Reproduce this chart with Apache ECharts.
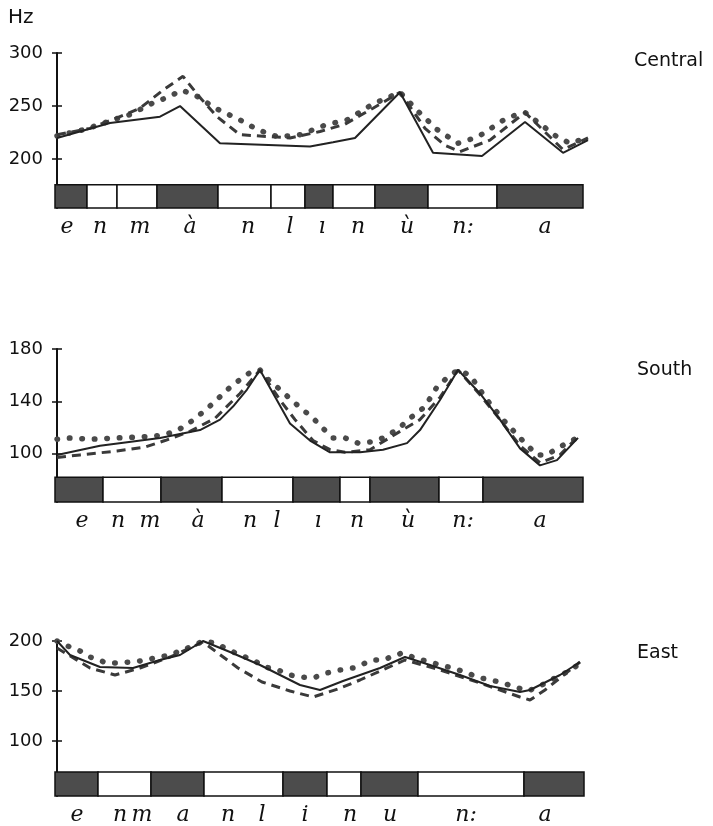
<!DOCTYPE html>
<html>
<head>
<meta charset="utf-8">
<script src="https://cdn.jsdelivr.net/npm/echarts@6/dist/echarts.min.js"></script>
<style>
  html, body { margin: 0; padding: 0; background: #fff; }
  #main { width: 713px; height: 826px; }
</style>
</head>
<body>
<div id="main"></div>
<script>
// time (ms from start of utterance) and F0 (Hz), three speakers per dialect
var centralSolidT = [0, 53, 103, 123, 163, 253, 276, 298, 343, 376, 425, 468, 506, 531];
var centralSolidHz = [220, 234, 240, 250, 215, 212, 216, 220, 263, 206, 203, 235, 206, 218];
var centralDashT = [0, 33, 60, 83, 106, 126, 143, 160, 183, 233, 263, 288, 316, 343, 368, 388, 403, 433, 468, 506, 531];
var centralDashHz = [223, 229, 239, 248, 265, 278, 258, 240, 223, 220, 226, 233, 248, 263, 229, 213, 207, 218, 244, 209, 220];
var centralDotT = [0, 28, 56, 73, 96, 110, 125, 143, 156, 183, 200, 221, 243, 268, 290, 316, 343, 360, 380, 401, 421, 450, 468, 500, 513, 530];
var centralDotHz = [222, 228, 237, 242, 253, 258, 265, 258, 249, 237, 228, 221, 223, 232, 237, 252, 263, 246, 228, 215, 221, 239, 244, 221, 215, 220];

var southSolidT = [0, 43, 103, 143, 163, 176, 190, 203, 233, 253, 273, 303, 326, 350, 363, 383, 401, 423, 443, 463, 483, 500, 521];
var southSolidHz = [99, 106, 112, 118, 126, 136, 149, 164, 123, 110, 101, 101, 103, 108, 118, 141, 164, 146, 126, 104, 91, 95, 112];
var southDashT = [0, 23, 60, 88, 108, 133, 158, 183, 203, 223, 238, 256, 273, 288, 313, 343, 363, 383, 401, 423, 443, 463, 483, 503, 521];
var southDashHz = [97, 99, 102, 105, 110, 117, 127, 146, 164, 141, 126, 110, 103, 101, 103, 117, 126, 143, 164, 145, 126, 106, 93, 99, 113];
var southDotT = [0, 10, 35, 61, 90, 105, 118, 128, 140, 151, 161, 172, 182, 193, 203, 212, 223, 233, 245, 255, 265, 276, 288, 301, 315, 326, 335, 343, 351, 360, 368, 380, 390, 401, 413, 430, 446, 463, 480, 490, 500, 520];
var southDotHz = [111, 112, 111, 112, 113, 114, 117, 121, 128, 135, 142, 150, 156, 162, 164, 156, 149, 142, 134, 128, 120, 112, 112, 108, 109, 112, 116, 120, 126, 131, 136, 151, 158, 164, 160, 141, 126, 112, 99, 99, 104, 112];

var eastSolidT = [0, 13, 43, 76, 103, 123, 146, 173, 203, 223, 243, 263, 286, 323, 348, 373, 403, 433, 463, 473, 503, 523];
var eastSolidHz = [200, 186, 174, 173, 181, 186, 200, 189, 176, 166, 156, 151, 160, 173, 184, 176, 166, 155, 149, 151, 166, 179];
var eastDashT = [0, 33, 58, 83, 113, 146, 181, 205, 233, 256, 281, 303, 348, 383, 423, 463, 473, 488, 523];
var eastDashHz = [193, 173, 166, 173, 184, 199, 173, 159, 150, 144, 152, 161, 181, 171, 158, 144, 141, 151, 179];
var eastDotT = [0, 8, 23, 33, 50, 63, 83, 113, 138, 146, 158, 170, 183, 196, 208, 221, 233, 243, 256, 270, 283, 296, 316, 326, 345, 358, 376, 395, 408, 420, 433, 443, 455, 471, 483, 498, 510, 521];
var eastDotHz = [200, 196, 190, 184, 178, 178, 180, 186, 196, 200, 198, 192, 186, 181, 174, 171, 166, 164, 163, 168, 171, 173, 181, 181, 188, 183, 178, 173, 169, 164, 161, 159, 155, 150, 155, 163, 169, 176];

// segment boundaries (ms) and which segments are voiced (dark)
var centralBounds = [-2, 30, 60, 100, 161, 214, 248, 276, 318, 371, 440, 526];
var centralDark = [1, 0, 0, 1, 0, 0, 1, 0, 1, 0, 1];
var southBounds = [-2, 46, 104, 165, 236, 283, 313, 382, 426, 526];
var southDark = [1, 0, 1, 0, 1, 0, 1, 0, 1];
var eastBounds = [-2, 41, 94, 147, 226, 270, 304, 361, 467, 527];
var eastDark = [1, 0, 1, 0, 1, 0, 1, 0, 1];

// phonetic transcription under each bar
var centralLabelT = [10, 43, 83, 133, 191, 233, 265, 301, 350, 406, 488];
var centralLabels = ['e', 'n', 'm', 'à', 'n', 'l', 'ı', 'n', 'ù', 'n:', 'a'];
var southLabelT = [25, 61, 93, 141, 193, 220, 261, 300, 351, 406, 483];
var southLabels = ['e', 'n', 'm', 'à', 'n', 'l', 'ı', 'n', 'ù', 'n:', 'a'];
var eastLabelT = [20, 63, 85, 126, 171, 205, 248, 293, 333, 409, 488];
var eastLabels = ['e', 'n', 'm', 'a', 'n', 'l', 'i', 'n', 'u', 'n:', 'a'];

// y tick labels
var centralTicks = [200, 250, 300];
var southTicks = [100, 140, 180];
var eastTicks = [100, 150, 200];

var myChart = echarts.init(document.getElementById('main'), null, { renderer: 'canvas' });

function pts(t, hz) {
    var out = [];
    for (var i = 0; i < t.length; i++) out.push([t[i], hz[i]]);
    return out;
}

function segs(bounds, dark) {
    var out = [];
    for (var i = 0; i < dark.length; i++) out.push([bounds[i], bounds[i + 1], dark[i]]);
    return out;
}

// panel layout: top px, height px, axis min/max, bar top value
var panels = [
    { top: 53, height: 155, min: 154, max: 300, barTop: 176, ticks: centralTicks,
      solid: pts(centralSolidT, centralSolidHz), dash: pts(centralDashT, centralDashHz), dot: pts(centralDotT, centralDotHz),
      segs: segs(centralBounds, centralDark), labT: centralLabelT, lab: centralLabels },
    { top: 349, height: 153, min: 63, max: 180, barTop: 82, ticks: southTicks,
      solid: pts(southSolidT, southSolidHz), dash: pts(southDashT, southDashHz), dot: pts(southDotT, southDotHz),
      segs: segs(southBounds, southDark), labT: southLabelT, lab: southLabels },
    { top: 641, height: 155, min: 45, max: 200, barTop: 69, ticks: eastTicks,
      solid: pts(eastSolidT, eastSolidHz), dash: pts(eastDashT, eastDashHz), dot: pts(eastDotT, eastDotHz),
      segs: segs(eastBounds, eastDark), labT: eastLabelT, lab: eastLabels }
];

var grids = [], xAxes = [], yAxes = [], series = [];

panels.forEach(function (p, i) {
    grids.push({ left: 57, width: 531, top: p.top, height: p.height });
    xAxes.push({ gridIndex: i, type: 'value', min: 0, max: 531, show: false });
    // main axis: line + labels
    yAxes.push({
        gridIndex: i, type: 'value', position: 'left', min: p.min, max: p.max,
        axisLine: { show: true, lineStyle: { color: '#111', width: 2 } },
        axisTick: { show: false },
        splitLine: { show: false },
        axisLabel: { customValues: p.ticks, color: '#111', fontSize: 18, fontFamily: 'DejaVu Sans', margin: 14 }
    });
    // second axis only for ticks that cross the axis line
    yAxes.push({
        gridIndex: i, type: 'value', position: 'left', offset: -5, min: p.min, max: p.max,
        axisLine: { show: false },
        axisLabel: { show: false },
        splitLine: { show: false },
        axisTick: { show: true, length: 10, customValues: p.ticks, lineStyle: { color: '#111', width: 1.5 } }
    });

    var base = { type: 'line', xAxisIndex: i, yAxisIndex: 2 * i, symbol: 'none', silent: true, clip: false };
    series.push(Object.assign({}, base, { data: p.dot,
        lineStyle: { color: '#4a4a4a', width: 5.5, type: [0.5, 12], cap: 'round' } }));
    series.push(Object.assign({}, base, { data: p.dash,
        lineStyle: { color: '#3a3a3a', width: 3, type: [9, 6] } }));
    series.push(Object.assign({}, base, { data: p.solid,
        lineStyle: { color: '#222', width: 2 } }));

    // segment bar
    series.push({
        type: 'custom', xAxisIndex: i, yAxisIndex: 2 * i, clip: false, silent: true,
        data: p.segs,
        renderItem: function (params, api) {
            var a = api.coord([api.value(0), p.barTop]);
            var b = api.coord([api.value(1), p.min]);
            return {
                type: 'rect',
                shape: { x: a[0], y: a[1], width: b[0] - a[0], height: b[1] - a[1] },
                style: { fill: api.value(2) ? '#4c4c4c' : '#fff', stroke: '#111', lineWidth: 1.5 }
            };
        }
    });

    // transcription letters
    series.push({
        type: 'custom', xAxisIndex: i, yAxisIndex: 2 * i, clip: false, silent: true,
        data: p.labT,
        renderItem: function (params, api) {
            var c = api.coord([api.value(0), p.min]);
            return {
                type: 'text', x: c[0], y: c[1] + 19,
                style: { text: p.lab[params.dataIndex], font: 'italic 22px "DejaVu Serif"', fill: '#111',
                         align: 'center', verticalAlign: 'middle' }
            };
        }
    });
});

var option = {
    backgroundColor: '#fff',
    animation: false,
    grid: grids,
    xAxis: xAxes,
    yAxis: yAxes,
    series: series,
    graphic: [
        { type: 'text', left: 8, top: 8, style: { text: 'Hz', font: '20px "DejaVu Sans"', fill: '#111' } },
        { type: 'text', left: 634, top: 52, style: { text: 'Central', font: '19px "DejaVu Sans"', fill: '#111' } },
        { type: 'text', left: 637, top: 361, style: { text: 'South', font: '19px "DejaVu Sans"', fill: '#111' } },
        { type: 'text', left: 637, top: 644, style: { text: 'East', font: '19px "DejaVu Sans"', fill: '#111' } }
    ]
};

myChart.setOption(option);
window.onresize = myChart.resize;
</script>
</body>
</html>
